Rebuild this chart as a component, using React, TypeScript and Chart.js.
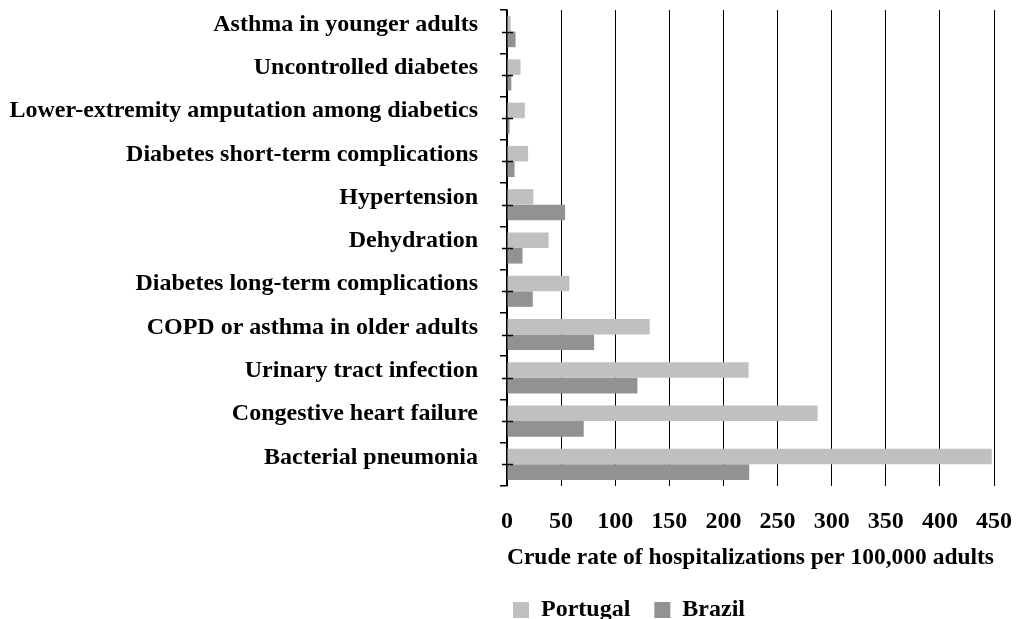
import React, { useEffect, useRef } from "react";
import { Chart, registerables } from "chart.js";

Chart.register(...registerables);

const categories = [
  "Asthma in younger adults",
  "Uncontrolled diabetes",
  "Lower-extremity amputation among diabetics",
  "Diabetes short-term complications",
  "Hypertension",
  "Dehydration",
  "Diabetes long-term complications",
  "COPD or asthma in older adults",
  "Urinary tract infection",
  "Congestive heart failure",
  "Bacterial pneumonia",
];
const portugal = [3.4, 12.5, 16.5, 19.5, 24.4, 38.4, 57.6, 131.9, 223.2, 287, 448];
const brazil = [7.9, 4, 2.4, 7, 53.7, 14.3, 23.8, 80.5, 120.5, 70.9, 223.8];
const xTicks = [0, 50, 100, 150, 200, 250, 300, 350, 400, 450];
const axisTitle = "Crude rate of hospitalizations per 100,000 adults";

const FONT = "'Liberation Serif', 'DejaVu Serif', serif";
const FSIZE = 24;
const LEGEND_PAD = 24;

const centerTicks = {
  id: "centerTicks",
  afterDraw(chart: any) {
    const y = chart.scales.y;
    const x0 = chart.scales.x.getPixelForValue(0);
    const ctx = chart.ctx;
    ctx.save();
    ctx.strokeStyle = "#000";
    ctx.lineWidth = 1.5;
    categories.forEach((_, i) => {
      const py = Math.round(y.getPixelForValue(i)) + 0.5;
      ctx.beginPath();
      ctx.moveTo(x0 - 5, py);
      ctx.lineTo(x0 + 6, py);
      ctx.stroke();
    });
    ctx.restore();
  },
};

const legendShift = {
  id: "legendShift",
  afterLayout(chart: any) {
    const L = chart.legend;
    if (!L) return;
    const dx = -(LEGEND_PAD - 6);
    const dy = -2;
    L.left += dx;
    L.right += dx;
    L.top += dy;
    L.bottom += dy;
  },
};

export default function App() {
  const ref = useRef<HTMLCanvasElement>(null);
  useEffect(() => {
    document.body.style.margin = "0";
    const chart = new Chart(ref.current!, {
      type: "bar",
      data: {
        labels: categories,
        datasets: [
          { label: "Portugal", data: portugal, backgroundColor: "#c0c0c0", barPercentage: 1, categoryPercentage: 0.72 },
          { label: "Brazil", data: brazil, backgroundColor: "#929292", barPercentage: 1, categoryPercentage: 0.72 },
        ],
      },
      options: {
        indexAxis: "y",
        animation: false,
        responsive: false,
        maintainAspectRatio: false,
        layout: { padding: { left: 10, right: 30, top: 10, bottom: -15 } },
        scales: {
          x: {
            min: 0,
            max: 450,
            afterBuildTicks: (scale: any) => {
              scale.ticks = xTicks.map((v) => ({ value: v }));
            },
            afterFit: (scale: any) => {
              scale.height = 90;
              scale.paddingLeft = 0;
              scale.paddingRight = 0;
            },
            grid: { color: "#000", lineWidth: 1, drawTicks: false },
            border: { display: false },
            ticks: { color: "#000", padding: 21, font: { family: FONT, size: FSIZE, weight: "bold" } },
            title: {
              display: true,
              text: axisTitle,
              color: "#000",
              font: { family: FONT, size: FSIZE, weight: "bold" },
              padding: { top: 4, bottom: 4 },
            },
          },
          y: {
            afterFit: (scale: any) => {
              scale.width = 497;
              scale.paddingTop = 0;
              scale.paddingBottom = 0;
            },
            grid: { offset: true, drawOnChartArea: false, drawTicks: true, tickLength: 7, color: "#000", lineWidth: 1.5 },
            border: { display: true, color: "#000", width: 1.5 },
            ticks: {
              color: "#000",
              padding: 22,
              labelOffset: -7,
              autoSkip: false,
              font: { family: FONT, size: FSIZE, weight: "bold" },
            },
          },
        },
        plugins: {
          legend: {
            position: "bottom",
            align: "start",
            fullSize: false,
            labels: {
              boxWidth: 16,
              boxHeight: 16,
              padding: LEGEND_PAD,
              color: "#000",
              font: { family: FONT, size: FSIZE, weight: "bold" },
            },
          },
          tooltip: { enabled: false },
        },
      },
      plugins: [centerTicks, legendShift],
    } as any);
    return () => chart.destroy();
  }, []);
  return <canvas ref={ref} width={1024} height={619} style={{ display: "block" }} />;
}
